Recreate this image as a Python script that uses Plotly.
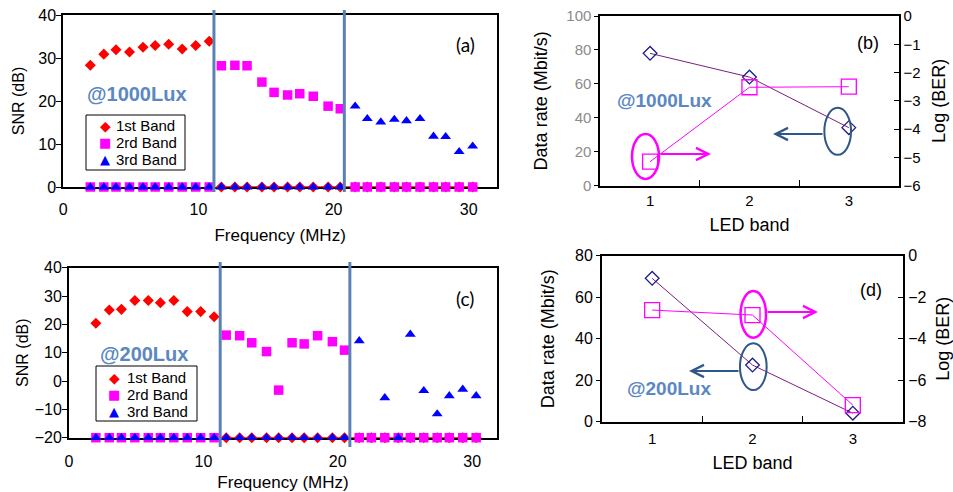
import plotly.graph_objects as go

W, H = 953, 492
def fx(px): return px / W
def fy(py): return 1 - py / H

# ---------------- data ----------------
freq = [2.0, 3.0, 3.9, 4.9, 5.9, 6.8, 7.8, 8.8, 9.8, 10.8,
        11.7, 12.7, 13.6, 14.7, 15.6, 16.6, 17.5, 18.5, 19.6, 20.5,
        21.6, 22.5, 23.5, 24.5, 25.4, 26.4, 27.4, 28.3, 29.3, 30.3]

snr_1000_band1 = [28.3, 30.9, 31.9, 31.4, 32.5, 32.9, 33.2, 32.1, 32.9, 33.9,
                  0, 0, 0, 0, 0, 0, 0, 0, 0, 0,
                  0, 0, 0, 0, 0, 0, 0, 0, 0, 0]
snr_1000_band2 = [0, 0, 0, 0, 0, 0, 0, 0, 0, 0,
                  28.2, 28.3, 28.2, 24.4, 22.0, 21.4, 21.7, 21.1, 18.8, 18.2,
                  0, 0, 0, 0, 0, 0, 0, 0, 0, 0]
snr_1000_band3 = [0, 0, 0, 0, 0, 0, 0, 0, 0, 0,
                  0, 0, 0, 0, 0, 0, 0, 0, 0, 0,
                  18.8, 15.9, 15.1, 15.7, 15.4, 15.9, 11.8, 11.7, 8.2, 9.5]

snr_200_band1 = [20.4, 25.1, 25.3, 28.4, 28.4, 27.6, 28.4, 24.5, 24.5, 22.7,
                 -20, -20, -20, -20, -20, -20, -20, -20, -20, -20,
                 -20, -20, -20, -20, -20, -20, -20, -20, -20, -20]
snr_200_band2 = [-20, -20, -20, -20, -20, -20, -20, -20, -20, -20,
                 16.2, 16.0, 13.5, 10.4, -3.2, 13.5, 13.1, 16.0, 13.9, 10.9,
                 -20, -20, -20, -20, -20, -20, -20, -20, -20, -20]
snr_200_band3 = [-20, -20, -20, -20, -20, -20, -20, -20, -20, -20,
                 -20, -20, -20, -20, -20, -20, -20, -20, -20, -20,
                 14.2, None, -5.9, -20, 16.5, -3.4, -11.6, -5.2, -2.9, -5.2]

bounds_1000 = [11.15, 20.8]
bounds_200 = [11.25, 20.9]

band_names = ["1st Band", "2rd Band", "3rd Band"]

led_band = [1, 2, 3]
rate_1000 = [78.0, 64.0, 34.2]
logber_1000 = [-5.15, -2.52, -2.5]
rate_200 = [69.1, 27.3, 4.1]
logber_200 = [-2.62, -2.86, -7.2]

# ---------------- styles ----------------
FONT = "Liberation Sans"
RED, PINK, BLUE = "#ff0000", "#ff00ff", "#0000ff"
NAVY, PURPLE = "#1c1c8a", "#7a1f7a"
SEP = "#5b80b4"
LUX = "#5b87c2"
ELL_BLUE = "#2f5787"

fig = go.Figure()

def snr_panel(xa, ya, b1, b2, b3):
    fig.add_trace(go.Scatter(x=freq[10:], y=b1[10:], mode="lines",
                             line=dict(color=RED, width=1.5), showlegend=False,
                             hoverinfo="skip", xaxis=xa, yaxis=ya, cliponaxis=False))
    fig.add_trace(go.Scatter(x=freq, y=b1, mode="markers", name=band_names[0],
                             marker=dict(symbol="diamond", size=8.5, color=RED),
                             xaxis=xa, yaxis=ya, showlegend=False, cliponaxis=False))
    fig.add_trace(go.Scatter(x=freq, y=b2, mode="markers", name=band_names[1],
                             marker=dict(symbol="square", size=9.5, color=PINK),
                             xaxis=xa, yaxis=ya, showlegend=False, cliponaxis=False))
    fig.add_trace(go.Scatter(x=freq, y=b3, mode="markers", name=band_names[2],
                             marker=dict(symbol="triangle-up", size=9.5, color=BLUE),
                             xaxis=xa, yaxis=ya, showlegend=False, cliponaxis=False))

snr_panel("x", "y", snr_1000_band1, snr_1000_band2, snr_1000_band3)
snr_panel("x2", "y2", snr_200_band1, snr_200_band2, snr_200_band3)

def rate_panel(xa, yl, yr, rate, ber):
    fig.add_trace(go.Scatter(x=led_band, y=rate, mode="lines+markers",
                             line=dict(color=PURPLE, width=1),
                             marker=dict(symbol="diamond-open", size=10.5, color=NAVY,
                                         line=dict(width=1.3)),
                             showlegend=False, xaxis=xa, yaxis=yl, cliponaxis=False))
    fig.add_trace(go.Scatter(x=led_band, y=ber, mode="lines+markers",
                             line=dict(color=PINK, width=1),
                             marker=dict(symbol="square-open", size=15, color=PINK,
                                         line=dict(width=1.3)),
                             showlegend=False, xaxis=xa, yaxis=yr, cliponaxis=False))

rate_panel("x3", "y3", "y4", rate_1000, logber_1000)
rate_panel("x4", "y5", "y6", rate_200, logber_200)

axis_common = dict(showline=True, linewidth=2, linecolor="black", mirror=True,
                   showgrid=False, zeroline=False, tickcolor="black", automargin=False,
                   tickfont=dict(family=FONT, size=16, color="black"))

tf = lambda s, c="black": dict(family=FONT, size=s, color=c)

fig.update_layout(
    template="none",
    width=W, height=H, margin=dict(l=0, r=0, t=0, b=0, pad=0),
    paper_bgcolor="white", plot_bgcolor="white", showlegend=False,
    font=dict(family=FONT, color="black"),
    xaxis=dict(**axis_common, domain=[fx(63.3), fx(497)], range=[0, 32.1],
               tickvals=[0, 10, 20, 30], ticks="", ticklabelstandoff=7,
               layer="below traces", anchor="y",
               title=dict(text="Frequency (MHz)", font=tf(17), standoff=12)),
    yaxis=dict(**axis_common, domain=[fy(187), fy(15)], range=[0, 40], dtick=10,
               ticks="outside", ticklen=5, ticklabelstandoff=-3, anchor="x",
               layer="below traces",
               title=dict(text="SNR (dB)", font=tf(16), standoff=10)),
    xaxis2=dict(**axis_common, domain=[fx(69), fx(497)], range=[0, 31.85],
                tickvals=[0, 10, 20, 30], ticks="", ticklabelstandoff=8,
                layer="below traces", anchor="y2",
                title=dict(text="Frequency (MHz)", font=tf(17), standoff=8)),
    yaxis2=dict(**axis_common, domain=[fy(437.7), fy(267.7)], range=[-20, 40], dtick=10,
                ticks="outside", ticklen=5, ticklabelstandoff=-3, anchor="x2",
                layer="below traces",
                title=dict(text="SNR (dB)", font=tf(16), standoff=2)),
    xaxis3=dict(**axis_common | dict(tickfont=tf(15)), domain=[fx(600.4), fx(898.5)],
                range=[0.5, 3.5], tickvals=[1, 2, 3], ticks="", ticklabelstandoff=0,
                minor=dict(tickvals=[1.5, 2.5], ticks="inside", ticklen=6,
                           tickcolor="black", tickwidth=1),
                anchor="y3",
                title=dict(text="LED band", font=tf(18), standoff=11)),
    yaxis3=dict(**axis_common | dict(tickfont=tf(15, "#8a8a8a"), mirror=False),
                domain=[fy(185.7), fy(16)], range=[0, 100], dtick=20,
                ticks="outside", ticklen=4, anchor="x3",
                title=dict(text="Data rate (Mbit/s)", font=tf(18), standoff=14)),
    yaxis4=dict(**axis_common | dict(tickfont=tf(15), mirror=False),
                overlaying="y3", side="right", anchor="x3",
                range=[-6, 0], dtick=1, ticks="inside", ticklen=5,
                title=dict(text="Log (BER)", font=tf(18), standoff=13)),
    xaxis4=dict(**axis_common | dict(tickfont=tf(15)), domain=[fx(602), fx(903)],
                range=[0.5, 3.5], tickvals=[1, 2, 3], ticks="", ticklabelstandoff=2,
                minor=dict(tickvals=[1.5, 2.5], ticks="inside", ticklen=6,
                           tickcolor="black", tickwidth=1),
                anchor="y5",
                title=dict(text="LED band", font=tf(18), standoff=11)),
    yaxis5=dict(**axis_common | dict(tickfont=tf(16), mirror=False),
                domain=[fy(421.7), fy(255.7)], range=[0, 80], dtick=20,
                ticks="outside", ticklen=4, anchor="x4",
                title=dict(text="Data rate (Mbit/s)", font=tf(18), standoff=16)),
    yaxis6=dict(**axis_common | dict(tickfont=tf(16), mirror=False),
                overlaying="y5", side="right", anchor="x4",
                range=[-8, 0], dtick=2, ticks="inside", ticklen=5,
                title=dict(text="Log (BER)", font=tf(18), standoff=11)),
)

shapes = []
for xv in bounds_1000:
    shapes.append(dict(type="line", xref="x", yref="paper", x0=xv, x1=xv,
                       y0=fy(192), y1=fy(10), line=dict(color=SEP, width=3)))
for xv in bounds_200:
    shapes.append(dict(type="line", xref="x2", yref="paper", x0=xv, x1=xv,
                       y0=fy(447), y1=fy(262), line=dict(color=SEP, width=3)))

def ellipse(cx, cy, w, h, color, width=2):
    return dict(type="circle", xref="paper", yref="paper",
                x0=fx(cx - w / 2), x1=fx(cx + w / 2), y0=fy(cy + h / 2), y1=fy(cy - h / 2),
                line=dict(color=color, width=width))

def rect(x0, y0, x1, y1):
    return dict(type="rect", xref="paper", yref="paper", x0=fx(x0), x1=fx(x1),
                y0=fy(y1), y1=fy(y0), line=dict(color="black", width=1),
                fillcolor="white", layer="above")

shapes += [
    ellipse(645.5, 156.5, 27, 45, PINK, 2.5),
    ellipse(837.7, 131.3, 26.7, 47, ELL_BLUE, 2),
    ellipse(753.3, 314.3, 25.5, 46.7, PINK, 2.5),
    ellipse(753.3, 366.7, 26.7, 46.7, ELL_BLUE, 2),
    rect(86, 115, 185, 170),
    rect(96, 366, 197, 421),
]
fig.update_layout(shapes=shapes)

ann = []
def txt(x, y, s, size, color="black", bold=False, family=FONT, xanchor="center", h=None):
    d = dict(xref="paper", yref="paper", x=fx(x), y=fy(y),
             text=("<b>%s</b>" % s) if bold else s,
             showarrow=False, xanchor=xanchor, yanchor="middle",
             font=dict(family=family, size=size, color=color))
    if h:
        d["height"] = h
    ann.append(d)

txt(465, 45, "(a)", 19, family="Lato")
txt(465, 298, "(c)", 19, family="Lato")
txt(868, 43, "(b)", 18)
txt(871, 290, "(d)", 18)
txt(137, 94, "@1000Lux", 20, LUX, True)
txt(144, 354, "@200Lux", 20, LUX, True)
txt(664, 100, "@1000Lux", 19, LUX, True)
txt(669, 388, "@200Lux", 19, LUX, True)

# legend boxes (glyph + label)
glyphs = [("\u25C6", RED, 14), ("\u25A0", PINK, 13), ("\u25B2", BLUE, 13)]
for (gx, tx, rows) in [(105, 114, [125.5, 142.4, 159.3]), (114.3, 125, [377.2, 394.2, 411.2])]:
    for (g, col, gs), name, ry in zip(glyphs, band_names, rows):
        txt(gx, ry, g, gs, col, family="DejaVu Sans", h=15)
        txt(tx, ry, name, 15, xanchor="left", h=15)

def arrow(x0, y0, x1, y1, color):
    ann.append(dict(xref="paper", yref="paper", x=fx(x1), y=fy(y1),
                    ax=x0 - x1, ay=y0 - y1, axref="pixel", ayref="pixel",
                    showarrow=True, arrowhead=5, arrowsize=1.1, arrowwidth=2.2,
                    arrowcolor=color, text=""))

arrow(659, 154, 711, 154, PINK)
arrow(824, 134, 773, 134, ELL_BLUE)
arrow(766, 312, 818, 312, PINK)
arrow(740, 371, 689, 371, ELL_BLUE)

fig.update_layout(annotations=ann)

fig.write_html("out.html", config={"displayModeBar": False},
               post_script="document.body.style.margin='0px';document.body.style.padding='0px';")
